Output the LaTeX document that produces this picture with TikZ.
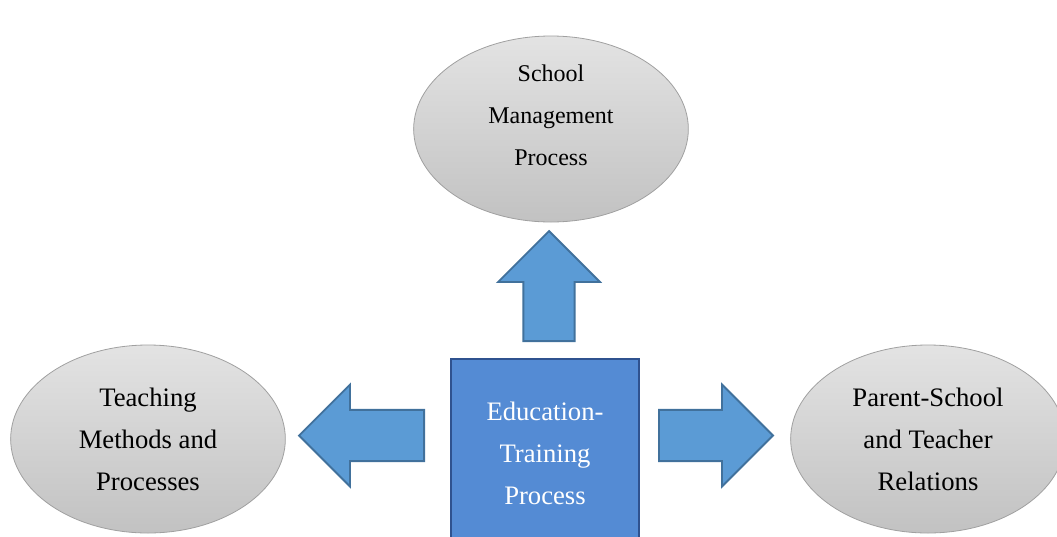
\documentclass[tikz,border=0pt]{standalone}
\usepackage{fontspec}
\setmainfont{Liberation Serif}
\definecolor{ovalgray}{RGB}{160, 160, 160}
\definecolor{boxblue}{RGB}{84, 139, 212}
\definecolor{boxedge}{RGB}{47, 82, 143}
\definecolor{arrowblue}{RGB}{91, 155, 213}
\definecolor{arrowedge}{RGB}{65, 113, 156}
\usetikzlibrary{shapes.geometric, shapes.arrows, positioning}

\begin{document}
\begin{tikzpicture}[x=0.75pt, y=-0.75pt,
  oval/.style={ellipse, draw=ovalgray, line width=0.6pt, top color=black!11, bottom color=black!24, inner sep=0pt, minimum width=206pt, minimum height=141pt, font=\fontsize{20}{31.5}\selectfont, align=center},
  ovaltext/.style={font=\fontsize{18}{31.5}\selectfont, align=center, inner sep=0pt},
  centrebox/.style={draw=boxedge, line width=1.1pt, fill=boxblue, minimum width=141pt, minimum height=141pt, text=white, font=\fontsize{20}{31.5}\selectfont, align=center},
  blockarrow/.style={single arrow, draw=arrowedge, line width=1.4pt, fill=arrowblue, inner xsep=0pt, inner ysep=18.5pt, single arrow head extend=19pt, single arrow tip angle=90, minimum width=75.5pt, anchor=tail}]
\useasboundingbox (0,0) rectangle (1057,536);

% outer processes
\node[oval, minimum height=139.5pt] (mgmt) at (551,129) {};
\node[ovaltext] (mgmttext) at (551,115) {School\\Management\\Process};
\node[oval] (teach) at (148,439) {Teaching\\Methods and\\Processes};
\node[oval] (parent) at (928,439) {Parent-School\\and Teacher\\Relations};

% central process
\node[centrebox] (edu) at (545,453) {Education-\\Training\\Process};

% block arrows
\node[blockarrow, minimum height=82.5pt, rotate=90] (upArr) at (549,342) {};
\node[blockarrow, minimum height=93.75pt, rotate=180] (leftArr) at (425,435.5) {};
\node[blockarrow, minimum height=85.5pt] (rightArr) at (658,435.5) {};
\end{tikzpicture}
\end{document}
